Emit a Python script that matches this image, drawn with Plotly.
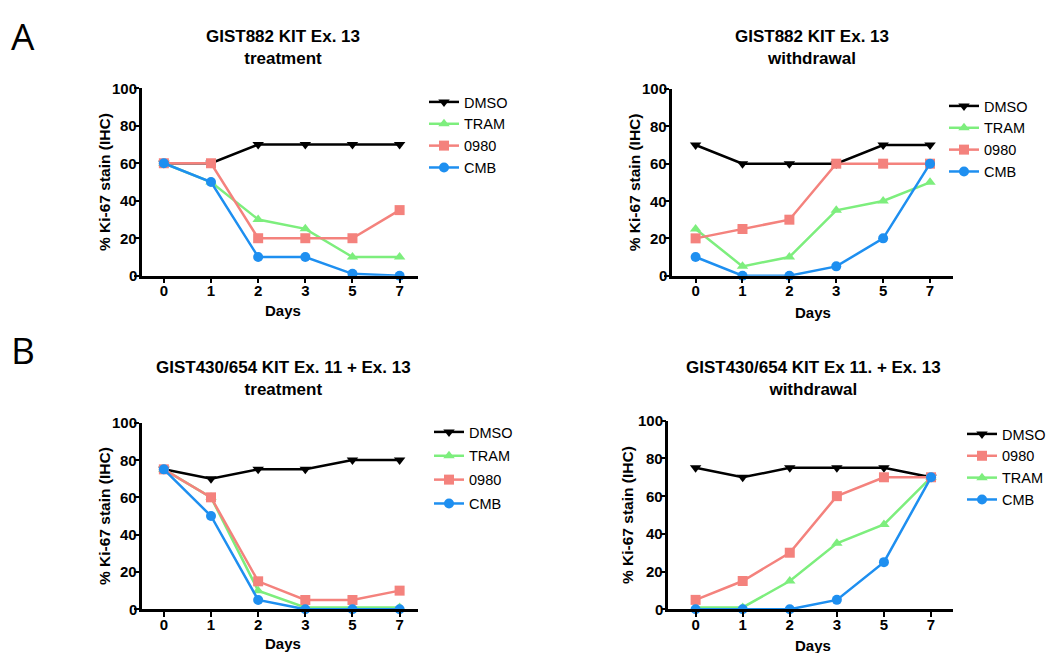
import plotly.graph_objects as go

days = ["0", "1", "2", "3", "5", "7"]
y_ticks = [0, 20, 40, 60, 80, 100]

# Panel A - treatment
a_treat_dmso = [60, 60, 70, 70, 70, 70]
a_treat_tram = [60, 50, 30, 25, 10, 10]
a_treat_0980 = [60, 60, 20, 20, 20, 35]
a_treat_cmb = [60, 50, 10, 10, 1, 0]

# Panel A - withdrawal
a_wd_dmso = [70, 60, 60, 60, 70, 70]
a_wd_tram = [25, 5, 10, 35, 40, 50]
a_wd_0980 = [20, 25, 30, 60, 60, 60]
a_wd_cmb = [10, 0, 0, 5, 20, 60]

# Panel B - treatment
b_treat_dmso = [75, 70, 75, 75, 80, 80]
b_treat_tram = [75, 60, 10, 1, 1, 1]
b_treat_0980 = [75, 60, 15, 5, 5, 10]
b_treat_cmb = [75, 50, 5, 0, 0, 0]

# Panel B - withdrawal
b_wd_dmso = [75, 70, 75, 75, 75, 70]
b_wd_0980 = [5, 15, 30, 60, 70, 70]
b_wd_tram = [1, 1, 15, 35, 45, 70]
b_wd_cmb = [0, 0, 0, 5, 25, 70]

titles = [
    "GIST882 KIT Ex. 13<br>treatment",
    "GIST882 KIT Ex. 13<br>withdrawal",
    "GIST430/654 KIT Ex. 11 + Ex. 13<br>treatment",
    "GIST430/654 KIT Ex 11. + Ex. 13<br>withdrawal",
]

COL = {"DMSO": "#000000", "TRAM": "#7DEE7D", "0980": "#F4827D", "CMB": "#1E8FF0"}
SYM = {"DMSO": "triangle-down", "TRAM": "triangle-up", "0980": "square", "CMB": "circle"}

W, H = 1056, 653
# map target screen pixels to paper coordinates (8px page margin compensation)
def px(x):
    return (x - 8) / W
def py(y):
    return 1 - (y - 8) / H

panels = [
    ([("DMSO", a_treat_dmso), ("TRAM", a_treat_tram), ("0980", a_treat_0980), ("CMB", a_treat_cmb)],
     (141.7, 418), (88.3, 275.7), (-0.47, 5.39), (424, 86)),
    ([("DMSO", a_wd_dmso), ("TRAM", a_wd_tram), ("0980", a_wd_0980), ("CMB", a_wd_cmb)],
     (671.7, 953), (89, 275.7), (-0.51, 5.49), (944, 90)),
    ([("DMSO", b_treat_dmso), ("TRAM", b_treat_tram), ("0980", b_treat_0980), ("CMB", b_treat_cmb)],
     (141.7, 418), (422.7, 609.3), (-0.47, 5.39), (429, 416)),
    ([("DMSO", b_wd_dmso), ("0980", b_wd_0980), ("TRAM", b_wd_tram), ("CMB", b_wd_cmb)],
     (668.3, 952.7), (420.7, 609.3), (-0.58, 5.46), (962, 418)),
]
gaps = [0, 0, 2, 0]

fig = go.Figure()
FONT = "Liberation Sans, Arial, sans-serif"
TICKFONT = dict(family=FONT, size=15, color="black", weight="bold")
draw_order = ["DMSO", "TRAM", "0980", "CMB"]
annotations = []

for i, (series, xd, yd, xr, lg) in enumerate(panels):
    n = "" if i == 0 else str(i + 1)
    xa, ya = "x" + n, "y" + n
    legname = "legend" + n
    sd = dict(series)
    for name in draw_order:
        rank = [s[0] for s in series].index(name)
        fig.add_trace(go.Scatter(
            x=days, y=sd[name], name=name, mode="lines+markers",
            line=dict(color=COL[name], width=2.5),
            marker=dict(symbol=SYM[name], size=10, color=COL[name]),
            xaxis=xa, yaxis=ya, legend=legname, legendrank=rank + 1,
            legendgroup=f"g{i}{name}", cliponaxis=False, showlegend=True,
        ))
    fig.layout["xaxis" + n] = dict(
        domain=[px(xd[0]), px(xd[1])], anchor=ya, type="category",
        categoryorder="array", categoryarray=days, range=list(xr),
        showline=True, linecolor="black", linewidth=2.5,
        ticks="outside", ticklen=5, tickwidth=2, tickcolor="black",
        showgrid=False, zeroline=False, ticklabelstandoff=-5,
        tickfont=TICKFONT, automargin=False,
    )
    fig.layout["yaxis" + n] = dict(
        domain=[py(yd[1]), py(yd[0])], anchor=xa, range=[0, 100],
        tickvals=y_ticks, showline=True, linecolor="black", linewidth=2.5,
        ticks="outside", ticklen=5, tickwidth=2, tickcolor="black",
        showgrid=False, zeroline=False, showticklabels=False, automargin=False,
    )
    # y tick labels placed on the axis scale, close to the tick marks
    for v in y_ticks:
        annotations.append(dict(
            text=str(v), x=px(xd[0] - 3), xref="paper", y=v, yref=ya,
            showarrow=False, xanchor="right", yanchor="middle", font=TICKFONT,
        ))
    fig.layout[legname] = dict(
        x=px(lg[0]), y=py(lg[1]), xanchor="left", yanchor="top",
        font=dict(family=FONT, size=14.5, color="black"),
        bgcolor="rgba(0,0,0,0)", traceorder="grouped", tracegroupgap=gaps[i],
    )
    annotations.append(dict(
        text="<b>" + titles[i].replace("<br>", "</b><br><b>") + "</b>",
        x=px([283, 812, 283, 813][i]), y=py([48, 48, 379, 378][i]),
        xref="paper", yref="paper", showarrow=False, xanchor="center", yanchor="middle",
        font=dict(family=FONT, size=17, color="black"),
    ))
    annotations.append(dict(
        text="<b>Days</b>", x=px([283, 813, 283, 813][i]), y=py([310, 312, 643, 645][i]),
        xref="paper", yref="paper", showarrow=False, xanchor="center", yanchor="middle",
        font=dict(family=FONT, size=15, color="black"),
    ))
    annotations.append(dict(
        text="<b>% Ki-67 stain (IHC)</b>", x=px([104, 634, 104, 627][i]),
        y=py((yd[0] + yd[1]) / 2), textangle=-90,
        xref="paper", yref="paper", showarrow=False, xanchor="center", yanchor="middle",
        font=dict(family=FONT, size=15.5, color="black"),
    ))

annotations.append(dict(
    text="A", x=px(9), y=1, xref="paper", yref="paper", showarrow=False,
    xanchor="left", yanchor="top",
    font=dict(family="Open Sans, DejaVu Sans, sans-serif", size=37, color="black"),
))
annotations.append(dict(
    text="B", x=px(9), y=py(350), xref="paper", yref="paper", showarrow=False,
    xanchor="left", yanchor="middle",
    font=dict(family="Open Sans, DejaVu Sans, sans-serif", size=37, color="black"),
))

fig.update_layout(
    width=W, height=H, margin=dict(l=0, r=0, t=0, b=0),
    paper_bgcolor="white", plot_bgcolor="white",
    annotations=annotations, showlegend=True,
)

fig.write_html("out.html")
